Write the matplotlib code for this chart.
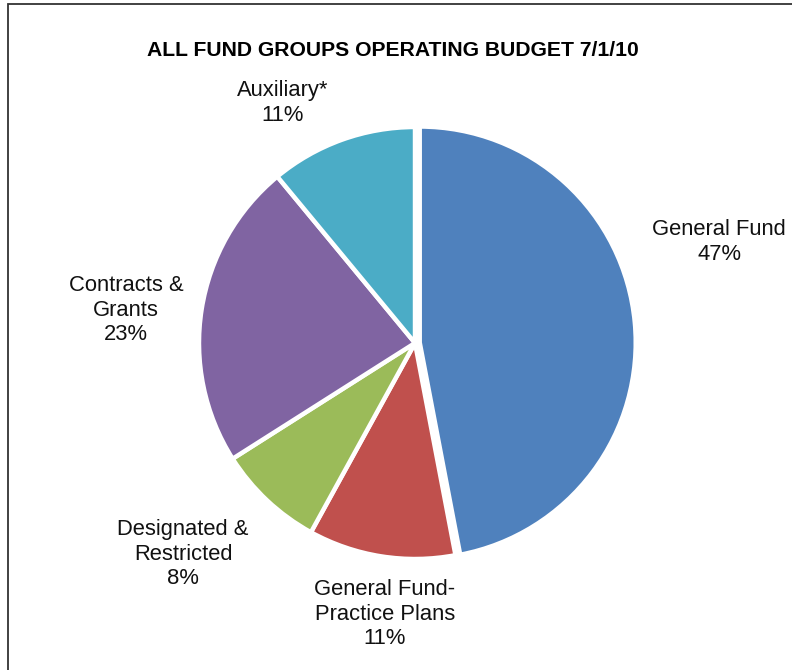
import matplotlib.pyplot as plt
from matplotlib.patches import Rectangle

plt.rcParams['font.family'] = ['Liberation Sans', 'DejaVu Sans']

categories = ['General Fund', 'General Fund-\nPractice Plans', 'Designated &\nRestricted',
              'Contracts &\nGrants', 'Auxiliary*']
shares = [47, 11, 8, 23, 11]
colors = ['#4F81BD', '#C0504D', '#9BBB59', '#8064A2', '#4BACC6']

W, H = 792, 670
R = 216
# pie explode is in data units here, so scale it by the radius
explode = [0.022 * R, 0, 0, 0, 0]

fig = plt.figure(figsize=(W / 100, H / 100), dpi=100)
ax = fig.add_axes([0, 0, 1, 1])

ax.pie(shares, colors=colors, explode=explode, startangle=90, counterclock=False,
       center=(415, H - 343), radius=R,
       wedgeprops=dict(edgecolor='white', linewidth=3.2))
ax.set_xlim(0, W)
ax.set_ylim(0, H)
ax.set_aspect('equal')
ax.axis('off')

# label anchor points (pixel space, y measured from top)
label_pos = [(719, 242), (385, 614), (183, 554), (126, 310), (283, 103)]
for name, pct, (x, y) in zip(categories, shares, label_pos):
    ax.text(x, H - y, f'{name}\n{pct}%', ha='center', va='center',
            fontsize=15.8, linespacing=1.2, color='#111111')

ax.text(W / 2 - 3, H - 51, 'ALL FUND GROUPS OPERATING BUDGET 7/1/10', ha='center',
        va='center', fontsize=15.2, fontweight='bold')

fig.patches.append(Rectangle((8 / W, -0.1), 1.2, 1.1 - 4 / H, transform=fig.transFigure,
                             fill=False, edgecolor='#333333', linewidth=1.3))

fig.savefig('out.png', dpi=100)
